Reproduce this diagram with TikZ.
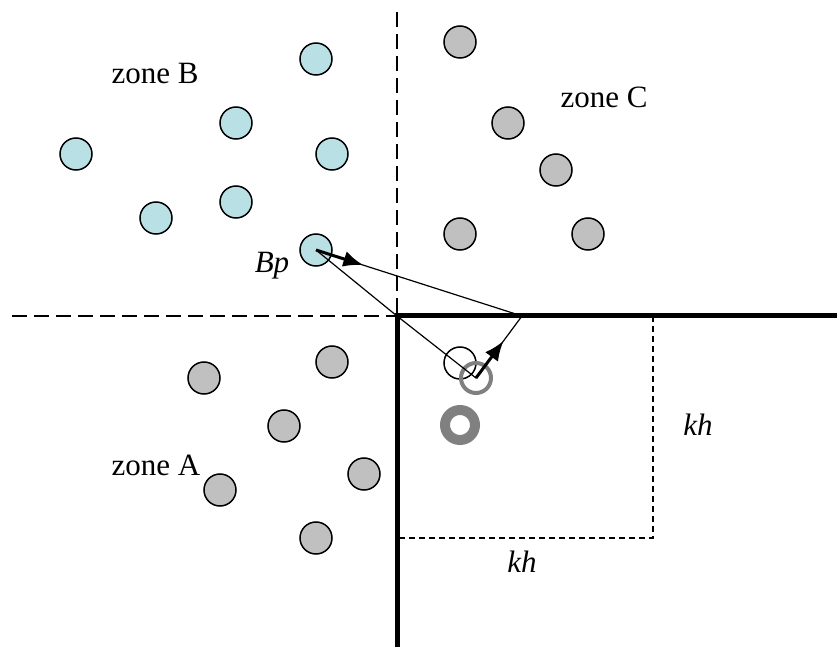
\documentclass[tikz,border=0pt]{standalone}
\usepackage{fontspec}
\setmainfont{Liberation Serif}
\usetikzlibrary{arrows.meta, calc, positioning}

\definecolor{dotblue}{RGB}{185,224,228}
\definecolor{dotgray}{RGB}{192,192,192}
\definecolor{ringgray}{RGB}{128,128,128}

\tikzset{
    bluedot/.style={circle, draw, line width=0.75pt, fill=dotblue, minimum size=16pt, inner sep=0pt},
    graydot/.style={circle, draw, line width=0.75pt, fill=dotgray, minimum size=16pt, inner sep=0pt},
    zonelabel/.style={font=\fontsize{15.5}{18}\selectfont},
    varlabel/.style={font=\fontsize{15.5}{18}\selectfont\itshape},
    bigdash/.style={line width=0.8pt, dash pattern=on 7.5pt off 3.5pt},
    smalldash/.style={line width=0.6pt, dash pattern=on 3pt off 2pt},
    wall/.style={line width=2.5pt},
    push/.style={line width=1.5pt, -{Latex[length=10pt, width=8pt]}}
}

\begin{document}
\begin{tikzpicture}[x=0.5pt, y=-0.5pt, line width=0.6pt]
        \useasboundingbox (0,0) rectangle (837,647);

        % Zone borders
        \coordinate (C) at (397,316);
        \coordinate (Ltop) at (397,12);
        \coordinate (Lleft) at (12,316);
        \coordinate (Wright) at (837,316);
        \coordinate (Wbottom) at (397,647);
        \draw[bigdash] (Lleft) -- (C);
        \draw[bigdash] (Ltop) -- (C);
        \draw[wall] (Wright) -- (C) -- (Wbottom);

        % Support square kh x kh
        \coordinate (K1) at (653,316);
        \coordinate (K2) at (653,538);
        \coordinate (K3) at (397,538);
        \draw[smalldash] (K1) -- (K2) -- (K3);
        \node[varlabel] (khR) at (698,425) {kh};
        \node[varlabel] (khB) at (522,562) {kh};

        % Zone B particles
        \node[bluedot] (b1) at (316,59) {};
        \node[bluedot] (b2) at (236,123) {};
        \node[bluedot] (b3) at (76,154) {};
        \node[bluedot] (b4) at (332,154) {};
        \node[bluedot] (b5) at (156,218) {};
        \node[bluedot] (b6) at (236,202) {};
        \node[bluedot] (Bp) at (316,250) {};
        \node[zonelabel] (zB) at (155,74) {zone B};
        \node[varlabel] (BpLabel) at (272,266) {Bp};

        % Zone C particles
        \node[graydot] (c1) at (460,42) {};
        \node[graydot] (c2) at (508,123) {};
        \node[graydot] (c3) at (556,170) {};
        \node[graydot] (c4) at (460,234) {};
        \node[graydot] (c5) at (588,234) {};
        \node[zonelabel] (zC) at (604,97) {zone C};

        % Zone A particles
        \node[graydot] (a1) at (204,378) {};
        \node[graydot] (a2) at (332,362) {};
        \node[graydot] (a3) at (284,426) {};
        \node[graydot] (a4) at (364,474) {};
        \node[graydot] (a5) at (220,490) {};
        \node[graydot] (a6) at (316,538) {};
        \node[zonelabel] (zA) at (156,465) {zone A};

        % Mirrored (ghost) particles
        \node[circle, draw, line width=0.75pt, minimum size=16pt, inner sep=0pt] (g1) at (460,363) {};
        \coordinate (V) at (476,378);
        \draw[ringgray, line width=2pt] (V) circle (15);
        \draw[ringgray, line width=5pt] (460,425) circle (15);

        % Distance construction
        \coordinate (R) at (522,316);
        \draw (Bp.center) -- (C) -- (V) -- (R) -- (Bp.center);
        \draw[push] (Bp.center) -- ($(Bp.center)!0.23!(R)$);
        \draw[push] (V) -- ($(V)!0.6!(R)$);

    \end{tikzpicture}
\end{document}
